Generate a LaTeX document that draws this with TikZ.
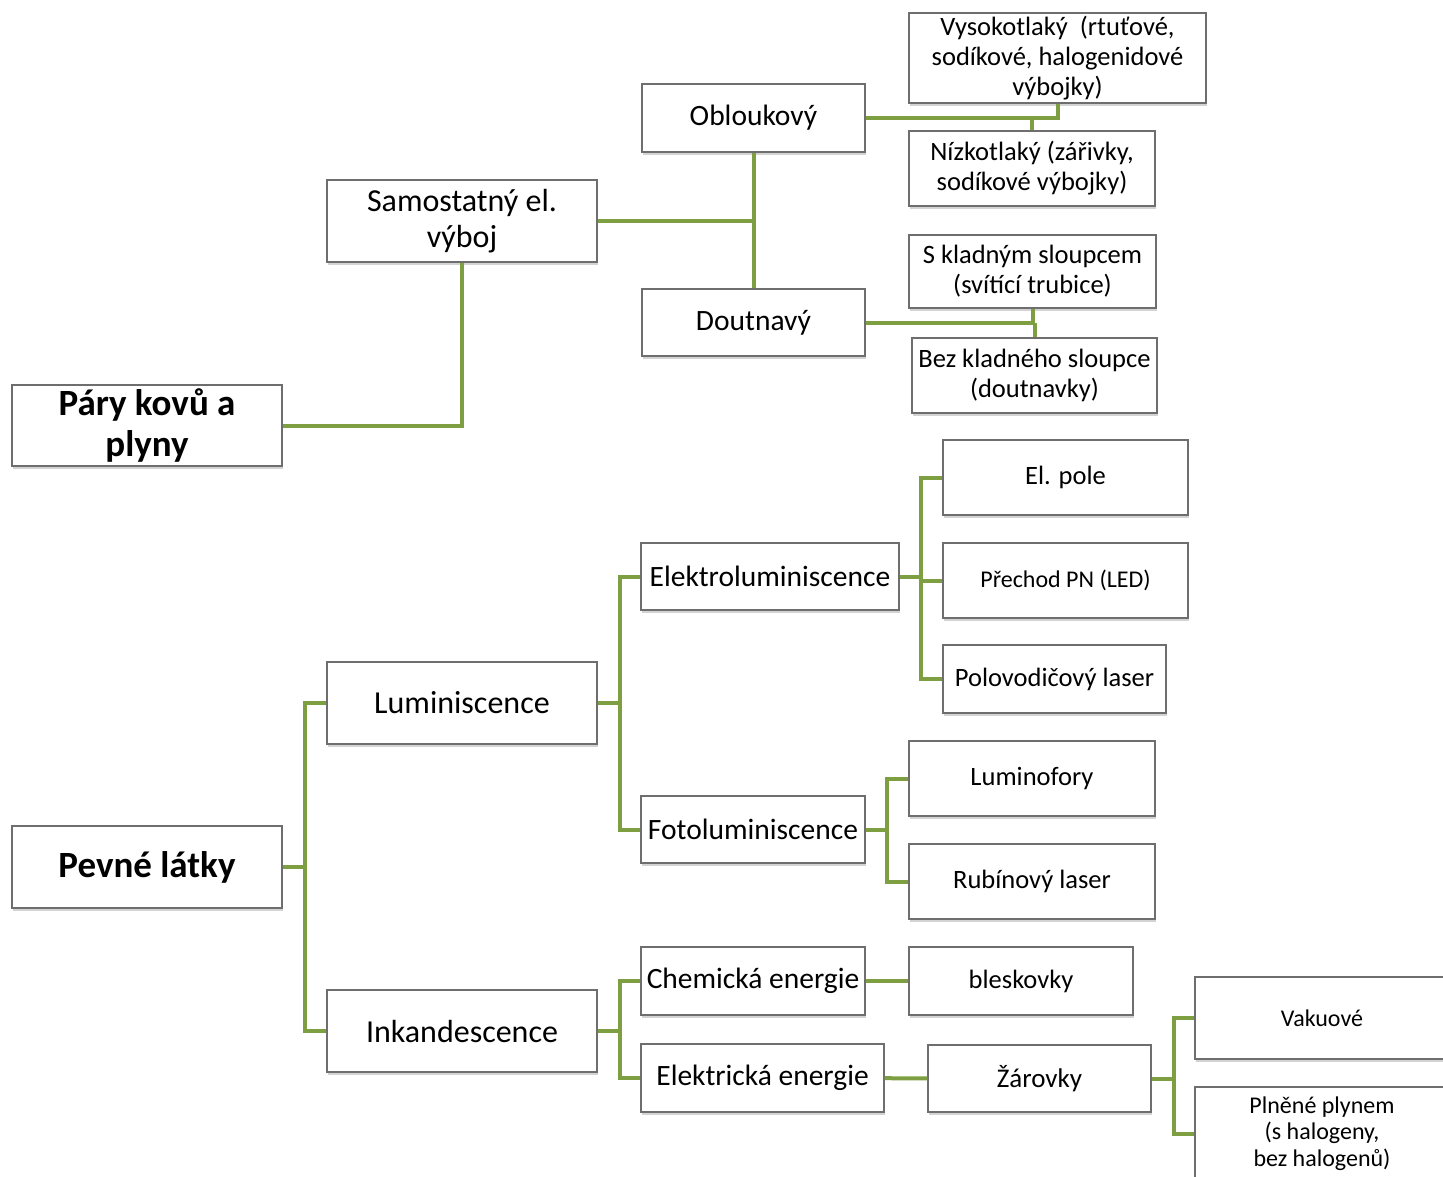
\documentclass[tikz,border=0pt]{standalone}
\usepackage{fontspec}
\setmainfont{Carlito}
\usetikzlibrary{shadows}
\definecolor{leafgreen}{RGB}{126,158,66}
\definecolor{boxgray}{RGB}{110,110,110}

\tikzset{
  box/.style={draw=boxgray, line width=1.2pt, fill=white, align=center, inner sep=2pt,
    drop shadow={shadow xshift=1pt, shadow yshift=-3pt, opacity=0.35}},
  link/.style={leafgreen, line width=4pt},
  big/.style={font=\fontsize{37}{41}\selectfont\bfseries},
  large/.style={font=\fontsize{32}{36}\selectfont},
  mid/.style={font=\fontsize{29.5}{36}\selectfont},
  small/.style={font=\fontsize{26.5}{30}\selectfont},
  tiny/.style={font=\fontsize{24}{26.5}\selectfont},
}

\begin{document}
\begin{tikzpicture}[x=1pt, y=-1pt]
            \clip (0,0) rectangle (1443,1176);
            % level 1
            \node[box, big, minimum width=270pt, minimum height=81pt] (pary)   at (147,425.5) {Páry kovů a\\plyny};
            \node[box, big, minimum width=270pt, minimum height=82pt] (pevne)  at (147,867)   {Pevné látky};
            % level 2
            \node[box, large, minimum width=270pt, minimum height=82pt] (samost) at (462,221)   {Samostatný el.\\výboj};
            \node[box, large, minimum width=270pt, minimum height=82pt] (lumin)  at (462,703)   {Luminiscence};
            \node[box, large, minimum width=270pt, minimum height=82pt] (inkand) at (462,1031)  {Inkandescence};
            % level 3
            \node[box, mid, minimum width=223pt, minimum height=68pt] (oblouk)  at (753.5,118)   {Obloukový};
            \node[box, mid, minimum width=223pt, minimum height=67pt] (doutn)   at (753.5,322.5) {Doutnavý};
            \node[box, mid, minimum width=258pt, minimum height=67pt] (elektro) at (770,576.5)   {Elektroluminiscence};
            \node[box, mid, minimum width=224pt, minimum height=67pt] (foto)    at (753,829.5)   {Fotoluminiscence};
            \node[box, mid, minimum width=224pt, minimum height=68pt] (chem)    at (753,981)     {Chemická energie};
            \node[box, mid, minimum width=243pt, minimum height=68pt] (elen)    at (762.5,1078)  {Elektrická energie};
            % level 4
            \node[box, small, minimum width=297pt, minimum height=90pt] (vysoko)  at (1057.5,58)   {Vysokotlaký\ \ (rtuťové,\\sodíkové, halogenidové\\výbojky)};
            \node[box, small, minimum width=246pt, minimum height=75pt] (nizko)   at (1032,168.5)  {Nízkotlaký (zářivky,\\sodíkové výbojky)};
            \node[box, small, minimum width=247pt, minimum height=73pt] (skladny) at (1032.5,271.5) {S kladným sloupcem\\(svítící trubice)};
            \node[box, small, minimum width=245pt, minimum height=75pt] (bezklad) at (1034.5,375.5) {Bez kladného sloupce\\(doutnavky)};
            \node[box, small, minimum width=245pt, minimum height=75pt] (elpole)  at (1065.5,477.5) {El. pole};
            \node[box, tiny,  minimum width=245pt, minimum height=75pt] (pn)      at (1065.5,580.5) {Přechod PN (LED)};
            \node[box, small, minimum width=223pt, minimum height=68pt] (polov)   at (1054.5,679)   {Polovodičový laser};
            \node[box, small, minimum width=246pt, minimum height=75pt] (lumfor)  at (1032,778.5)   {Luminofory};
            \node[box, small, minimum width=246pt, minimum height=75pt] (rubin)   at (1032,881.5)   {Rubínový laser};
            \node[box, small, minimum width=224pt, minimum height=68pt] (blesk)   at (1021,981)     {bleskovky};
            \node[box, mid,   minimum width=223pt, minimum height=67pt, font=\fontsize{27}{33}\selectfont] (zarov) at (1039.5,1078.5) {Žárovky};
            \node[box, tiny,  minimum width=254pt, minimum height=82pt] (vakuo)   at (1322,1018)    {Vakuové};
            \node[box, tiny,  minimum width=254pt, minimum height=93pt] (plnene)  at (1322,1133.5)  {Plněné plynem\\(s halogeny,\\bez halogenů)};
            % connectors, upper tree
            \draw[link] (pary.east) -| (samost.south);
            \draw[link] (samost.east) -- (samost.east -| oblouk.south);
            \draw[link] (oblouk.south) -- (doutn.north);
            \draw[link] (oblouk.east) -| (vysoko.south);
            \draw[link] (oblouk.east -| nizko.north) -- (nizko.north);
            \draw[link] (doutn.east) -| (skladny.south);
            \draw[link] (doutn.east -| bezklad.north) -- (bezklad.north);
            % connectors, lower tree
            \draw[link] (pevne.east) -- ++(22,0) coordinate (jpev);
            \draw[link] (lumin.west) -| (jpev);
            \draw[link] (inkand.west) -| (jpev);
            \draw[link] (lumin.east) -- ++(22,0) coordinate (jlum);
            \draw[link] (elektro.west) -| (jlum);
            \draw[link] (foto.west) -| (jlum);
            \draw[link] (elektro.east) -- ++(21,0) coordinate (jel);
            \draw[link] (elpole.west) -| (jel);
            \draw[link] (pn.west) -| (jel);
            \draw[link] (polov.west) -| (jel);
            \draw[link] (foto.east) -- ++(21,0) coordinate (jfoto);
            \draw[link] (lumfor.west) -| (jfoto);
            \draw[link] (rubin.west) -| (jfoto);
            \draw[link] (inkand.east) -- ++(22,0) coordinate (jink);
            \draw[link] (chem.west) -| (jink);
            \draw[link] (elen.west) -| (jink);
            \draw[link] (chem) -- (blesk);
            \draw[link] (elen) -- (zarov);
            \draw[link] (zarov.east) -- ++(22,0) coordinate (jzar);
            \draw[link] (vakuo.west) -| (jzar);
            \draw[link] (plnene.west) -| (jzar);
\end{tikzpicture}
\end{document}
